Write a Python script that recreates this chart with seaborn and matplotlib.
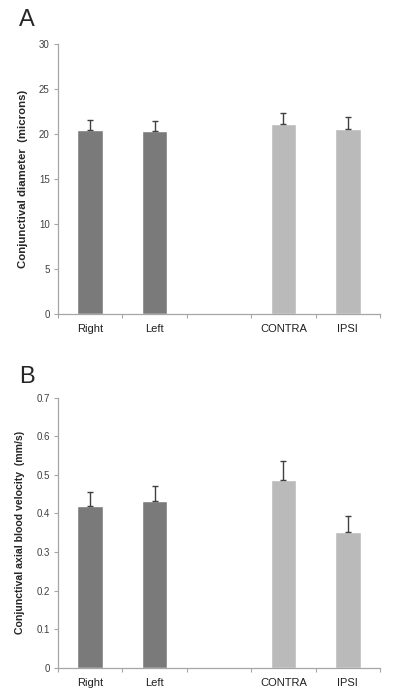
import matplotlib
matplotlib.use("Agg")
import matplotlib.pyplot as plt
import numpy as np
import pandas as pd
import seaborn as sns

groups = ["Right", "Left", "", "CONTRA", "IPSI"]
diameter = [20.5, 20.3, np.nan, 21.1, 20.6]
diameter_err = [1.1, 1.2, np.nan, 1.2, 1.3]
velocity = [0.420, 0.433, np.nan, 0.487, 0.353]
velocity_err = [0.036, 0.038, np.nan, 0.048, 0.040]
bar_colors = ["#7a7a7a", "#7a7a7a", "#ffffff", "#bababa", "#bababa"]

AXIS_GREY = "#a6a6a6"
TEXT_GREY = "#404040"

sns.set_style("white")
plt.rcParams["font.family"] = ["Liberation Sans", "DejaVu Sans"]

fig = plt.figure(figsize=(4, 7), dpi=100)
ax_a = fig.add_axes([0.145, 0.551, 0.805, 0.386])
ax_b = fig.add_axes([0.145, 0.046, 0.805, 0.386])


def draw_panel(ax, values, errors, ylabel, ylabel_size, ymax, yticks, ticklabels):
    df = pd.DataFrame({"group": groups, "value": values})
    sns.barplot(data=df, x="group", y="value", order=groups, hue="group",
                palette=dict(zip(groups, bar_colors)), legend=False,
                width=0.4, errorbar=None, ax=ax, saturation=1)
    pos = np.arange(len(groups))
    err = np.array(errors, dtype=float)
    ax.errorbar(pos, values, yerr=[np.zeros_like(err), err], fmt="none",
                ecolor=TEXT_GREY, elinewidth=1.0, capsize=2.5, capthick=1.0)

    ax.set_xlim(-0.5, len(groups) - 0.5)
    ax.set_ylim(0, ymax)
    ax.set_yticks(yticks)
    ax.set_yticklabels(ticklabels)
    ax.set_xticks(pos)
    ax.set_xticklabels(groups)
    ax.set_xticks(np.arange(-0.5, len(groups)), minor=True)
    ax.tick_params(axis="x", which="major", bottom=True, length=0, pad=7,
                   labelsize=8, labelcolor="#202020")
    ax.tick_params(axis="x", which="minor", bottom=True, length=3,
                   color=AXIS_GREY, width=0.8, direction="out")
    ax.tick_params(axis="y", left=True, length=3, color=AXIS_GREY, width=0.8,
                   direction="out", labelsize=7, labelcolor=TEXT_GREY, pad=3)
    ax.set_xlabel("")
    ax.set_ylabel(ylabel, fontsize=ylabel_size, fontweight="bold", labelpad=8)
    for side in ("top", "right"):
        ax.spines[side].set_visible(False)
    for side in ("left", "bottom"):
        ax.spines[side].set_color(AXIS_GREY)
        ax.spines[side].set_linewidth(0.9)


draw_panel(ax_a, diameter, diameter_err,
           "Conjunctival diameter  (microns)", 8.2, 30,
           [0, 5, 10, 15, 20, 25, 30],
           ["0", "5", "10", "15", "20", "25", "30"])
draw_panel(ax_b, velocity, velocity_err,
           "Conjunctival axial blood velocity  (mm/s)", 7.6, 0.7,
           [0, 0.1, 0.2, 0.3, 0.4, 0.5, 0.6, 0.7],
           ["0", "0.1", "0.2", "0.3", "0.4", "0.5", "0.6", "0.7"])

fig.text(0.048, 0.972, "A", fontsize=17, va="center", ha="left")
fig.text(0.048, 0.461, "B", fontsize=17, va="center", ha="left")

fig.savefig("out.png", dpi=100)
